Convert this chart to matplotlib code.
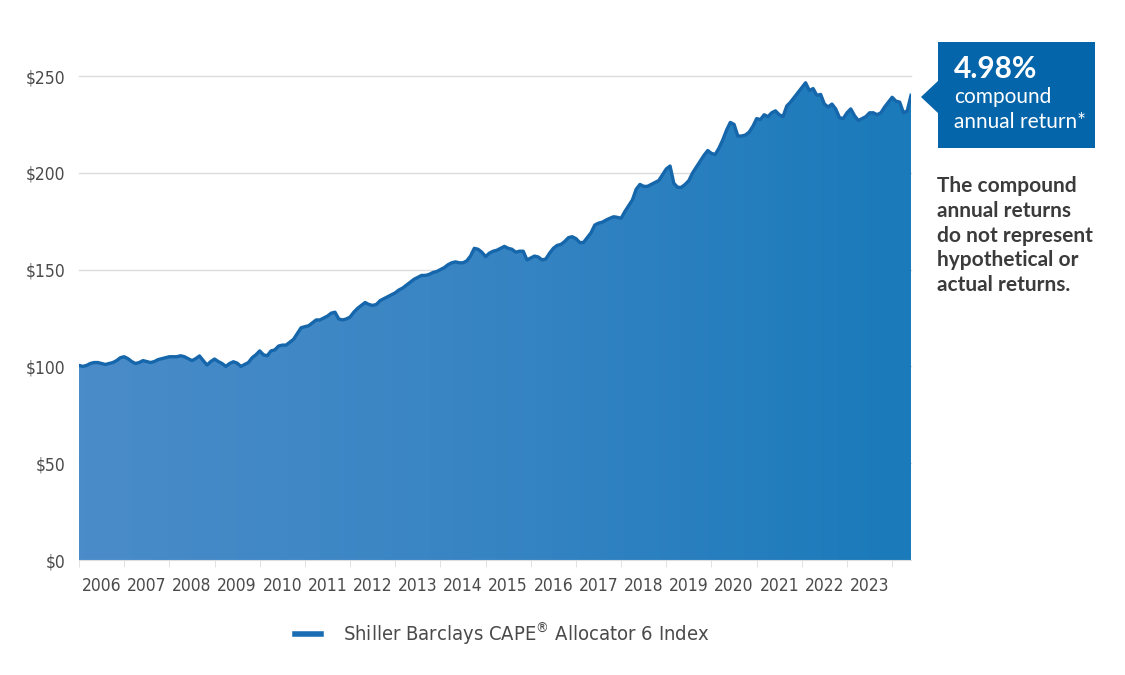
import numpy as np
import matplotlib
matplotlib.use("Agg")
import matplotlib.pyplot as plt
from matplotlib.colors import LinearSegmentedColormap
from matplotlib.patches import Rectangle, Polygon
from matplotlib.lines import Line2D

plt.rcParams['font.family'] = ['DejaVu Sans']
plt.rcParams['font.stretch'] = 'condensed'

# monthly index values, Jan 2006 - Jun 2024
values_2006 = [100.5, 100, 100.5, 101.5, 102, 102, 101.5, 101, 101.5, 102, 103, 104.5]
values_2007 = [105, 104, 102.5, 101.5, 102, 103, 102.5, 102, 102.5, 103.5, 104, 104.5]
values_2008 = [105, 105, 105, 105.5, 105, 104, 103, 104, 105.4, 103, 100.7, 102.5]
values_2009 = [103.8, 102.5, 101.5, 100, 101.5, 102.4, 101.7, 100, 101, 102, 104.5, 106]
values_2010 = [108, 106, 105.5, 108, 108.5, 110.5, 111, 111, 112.5, 114, 117, 120]
values_2011 = [120.5, 121, 122.5, 124, 124, 125, 126, 127.5, 128, 124.5, 124, 124.5]
values_2012 = [125.5, 128, 130, 131.5, 133, 132, 131.5, 132, 134, 135, 136, 137]
values_2013 = [138, 139.5, 140.5, 142, 143.5, 145, 146, 147, 147, 147.5, 148.5, 149]
values_2014 = [150, 151, 152.5, 153.5, 154, 153.5, 153.5, 154.5, 157, 161, 160.5, 159]
values_2015 = [156.7, 158.5, 159.5, 160, 161, 162, 161, 160.5, 159, 159.5, 159.5, 155]
values_2016 = [156, 157, 156.5, 155, 155.5, 158.5, 161, 162.5, 163, 164.5, 166.5, 167]
values_2017 = [166, 164, 164, 166.5, 169, 173, 174, 174.5, 175.6, 176.5, 177.3, 177]
values_2018 = [176.5, 180, 183, 186, 191.5, 194, 193, 193, 194, 195, 196, 199]
values_2019 = [202, 203.5, 194.6, 192.5, 192.5, 194, 196, 200, 203, 206, 209, 211.5]
values_2020 = [210, 209.5, 212.8, 217, 222, 226, 225, 219, 219, 219.5, 221, 224]
values_2021 = [228, 227.5, 230, 229, 231, 232, 230, 229, 234.5, 236.5, 239, 241.5]
values_2022 = [244, 246.5, 242.5, 243.5, 240, 240.5, 235.5, 234, 235.5, 233, 228.5, 228]
values_2023 = [231, 233, 229.5, 227, 228, 229, 231, 231, 230, 231, 234, 236.5]
values_2024 = [239, 237, 236.5, 231, 232, 240]

index_values = np.array(values_2006 + values_2007 + values_2008 + values_2009 + values_2010
                        + values_2011 + values_2012 + values_2013 + values_2014 + values_2015
                        + values_2016 + values_2017 + values_2018 + values_2019 + values_2020
                        + values_2021 + values_2022 + values_2023 + values_2024)
dates = 2006 + np.arange(len(index_values)) / 12.0

years = list(range(2006, 2024))
y_ticks = [0, 50, 100, 150, 200, 250]
series_name = 'Shiller Barclays CAPE$^{\\mathregular{®}}$ Allocator 6 Index'
cagr_text = '4.98%'

W, H = 1125, 675
fig = plt.figure(figsize=(W / 100, H / 100), dpi=100)


def fx(x):
    return x / W


def fy(y):
    return 1 - y / H


ax = fig.add_axes([fx(79), fy(560), fx(911) - fx(79), fy(76) - fy(560)])

# gridlines
for v in y_ticks[1:]:
    ax.axhline(v, color='#dcdcdc', lw=1, zorder=0, clip_on=False)

# gradient fill under the line
fill = ax.fill_between(dates, 0, index_values, color='none', zorder=1)
cmap = LinearSegmentedColormap.from_list('blues', ['#4a8cc9', '#3784c3', '#1a7aba'])
grad = np.linspace(0, 1, 256).reshape(1, -1)
img = ax.imshow(grad, cmap=cmap, aspect='auto', extent=[dates[0], dates[-1], 0, 250],
                zorder=1, interpolation='bilinear')
img.set_clip_path(fill.get_paths()[0], transform=ax.transData)
ax.set_xlim(dates[0], dates[-1])
ax.set_ylim(0, 250)

ax.plot(dates, index_values, color='#1566aa', lw=2.4, zorder=3)

# axes styling
for s in ['top', 'right', 'left']:
    ax.spines[s].set_visible(False)
ax.spines['bottom'].set_color('#dddddd')
ax.set_yticks(y_ticks)
ax.set_yticklabels([f'${v}' for v in y_ticks])
ax.tick_params(axis='y', length=0, pad=10, labelsize=12.5, labelcolor='#4a4a4a')
ax.set_xticks(years + [2024], minor=True)
ax.set_xticks([y + 0.5 for y in years])
ax.set_xticklabels([str(y) for y in years])
ax.tick_params(axis='x', which='major', length=0, pad=12, labelsize=12.5, labelcolor='#4a4a4a')
ax.tick_params(axis='x', which='minor', length=5, color='#dddddd')

# callout box
fig.add_artist(Rectangle((fx(938), fy(148)), fx(1095) - fx(938), fy(42) - fy(148),
                         transform=fig.transFigure, color='#0565aa', lw=0))
fig.add_artist(Polygon([(fx(921), fy(97)), (fx(939), fy(80)), (fx(939), fy(114))],
                       closed=True, transform=fig.transFigure, color='#0565aa', lw=0))
fig.text(fx(954), fy(69), cagr_text, color='white', fontsize=21.5, fontweight='bold',
         family=['Lato', 'DejaVu Sans'], fontstretch='normal', va='center', ha='left')
fig.text(fx(954), fy(97), 'compound', color='white', fontsize=15,
         family=['Lato', 'DejaVu Sans'], fontstretch='normal', va='center', ha='left')
fig.text(fx(954), fy(122), 'annual return*', color='white', fontsize=15,
         family=['Lato', 'DejaVu Sans'], fontstretch='normal', va='center', ha='left')

note = 'The compound\nannual returns\ndo not represent\nhypothetical or\nactual returns.'
fig.text(fx(937), fy(176), note, color='#3b3b3b', fontsize=15, fontweight='bold',
         family=['Lato', 'DejaVu Sans'], fontstretch='normal', va='top', ha='left',
         linespacing=1.3)

# legend
handle = Line2D([], [], color='#1a6db3', lw=4)
fig.legend([handle], [series_name], loc='center', bbox_to_anchor=(fx(502), fy(634)),
           frameon=False, fontsize=14.5, labelcolor='#4a4a4a', handlelength=1.3,
           handletextpad=1.1)

fig.savefig('out.png', dpi=100)
